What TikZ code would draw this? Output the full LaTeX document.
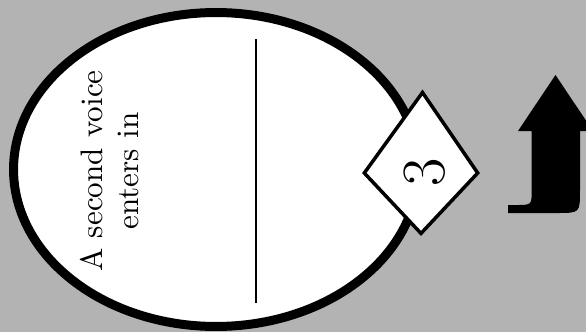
\documentclass[tikz,border=0pt]{standalone}
\usepackage{tikz}
\usetikzlibrary{shapes.geometric}
\definecolor{bggray}{RGB}{179,179,179}
\tikzset{
  voicebox/.style={draw=black,fill=white,ellipse,line width=0.18cm,inner sep=0pt,minimum width=8.1cm,minimum height=6.28cm},
  voicetext/.style={rotate=90,scale=1.77,transform shape,align=center,inner sep=0pt,font=\fontsize{10}{11.6}\selectfont},
  numtext/.style={rotate=90,inner sep=0pt,font=\fontsize{35}{35}\selectfont},
  badge/.style={draw=black,fill=white,line width=0.07cm,line join=miter},
  bentarrow/.style={fill=black},
}

\begin{document}
\begin{tikzpicture}[x=0.02cm,y=-0.02cm]
  \useasboundingbox (0,0) rectangle (586,332);
  \clip (0,0) rectangle (586,332);
  \fill[bggray] (0,0) rectangle (586,332);
  \node[voicebox] (voice) at (216,169.5) {};
  \node[voicetext] (label) at (110,171) {A second voice\\enters in};
  \coordinate (bartop) at (256,39);
  \coordinate (barbot) at (256,303);
  \draw[line width=0.75pt] (bartop) -- (barbot);
  % badge with the number
  \coordinate (btop) at (422.5,92.5);
  \coordinate (bright) at (477.7,173);
  \coordinate (bbot) at (421,233.4);
  \coordinate (bleft) at (364.3,173);
  \filldraw[badge] (btop) -- (bright) -- (bbot) -- (bleft) -- cycle;
  \node[numtext] (num) at (425,172) {3};
  % bent arrow, cut at the right edge
  \fill[bentarrow] (508,213) -- (557,213) .. controls (580,213) .. (580,190)
    -- (580,131) -- (593,131) -- (555.5,75) -- (518,131) -- (531.7,131)
    -- (531.7,190) .. controls (531.7,205) .. (516,205) -- (508,205) -- cycle;
\end{tikzpicture}
\end{document}
